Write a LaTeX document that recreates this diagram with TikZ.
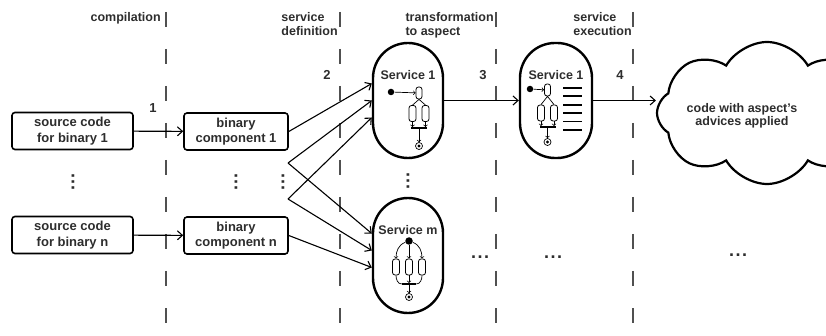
\documentclass[tikz,border=0pt]{standalone}
\usepackage{fontspec}
\setmainfont{Liberation Sans}
\usetikzlibrary{shapes.symbols, arrows.meta}

\definecolor{txtgray}{RGB}{45,45,45}
\definecolor{linegray}{RGB}{80,80,80}

\begin{document}
\begin{tikzpicture}[
                x = 1pt, y = -1pt, % pixel grid, y pointing down
                > = {Straight Barb[length=5pt, width=9pt]}, % open arrow head
                semithick, % line style
                font = \fontsize{12.5}{14}\selectfont\bfseries
            ]

            \useasboundingbox (0,0) rectangle (826,336);

            \tikzstyle{phase}=[anchor=north east, inner sep=0pt, align=left, text=txtgray]
            \tikzstyle{phaseline}=[draw=linegray, line width=1.5pt, dash pattern=on 15pt off 22pt]
            \tikzstyle{stepnum}=[inner sep=0pt, text=txtgray, font=\fontsize{13}{13}\selectfont\bfseries]
            \tikzstyle{codebox}=[draw, rounded corners=3pt, line width=1.6pt, minimum height=37pt,
                                 inner sep=1pt, align=center, text=txtgray,
                                 font=\fontsize{13}{15.5}\selectfont\bfseries]
            \tikzstyle{service}=[draw, rounded corners=35pt, line width=2.4pt,
                                 minimum width=70pt, minimum height=115pt, inner sep=0pt]
            \tikzstyle{flow}=[->, line width=1.1pt]
            \tikzstyle{dots}=[inner sep=0pt, text=txtgray, font=\fontsize{18}{18}\selectfont\bfseries]
            \tikzstyle{capsule}=[draw, rounded corners=2.5pt, line width=0.8pt, inner sep=0pt,
                             minimum width=6pt, minimum height=12pt]
            \tikzstyle{lowcap}=[capsule, minimum width=7pt, minimum height=16pt]
            \tikzstyle{startdot}=[fill, circle, inner sep=0pt, minimum size=6.5pt]
            \tikzstyle{enddot}=[draw, circle, line width=0.7pt, inner sep=0pt, minimum size=7pt]
            \tikzstyle{joinbar}=[fill, inner sep=0pt, minimum height=1.4pt]
            \tikzstyle{tiny}=[-to, line width=0.7pt]

            % phase separators
            \foreach \x in {166,340,496,633}
                \draw[phaseline] (\x,12) -- (\x,336);

            \node[phase] (ph1) at (161,12) {compilation};
            \node[phase] (ph2) at (338,12) {service\\definition};
            \node[phase] (ph3) at (494,12) {transformation\\to aspect};
            \node[phase] (ph4) at (632,12) {service\\execution};

            \node[stepnum] (n1) at (153,108) {1};
            \node[stepnum] (n2) at (327,75) {2};
            \node[stepnum] (n3) at (483,75) {3};
            \node[stepnum] (n4) at (620,75) {4};

            % sources and binaries
            \node[codebox, minimum width=121pt] (src1) at (72.5,131) {source code\\for binary 1};
            \node[codebox, minimum width=121pt] (srcn) at (72.5,235) {source code\\for binary n};
            \node[codebox, minimum width=104pt] (bin1) at (236,131.5) {binary\\component 1};
            \node[codebox, minimum width=104pt] (binn) at (236,235.5) {binary\\component n};

            \node[dots, rotate=90] (vd1) at (73,182) {.\kern1.5pt.\kern1.5pt.};
            \node[dots, rotate=90] (vd2) at (236,182) {.\kern1.5pt.\kern1.5pt.};
            \node[dots, rotate=90] (vd3) at (283,182) {.\kern1.5pt.\kern1.5pt.};

            \draw[flow] (src1) -- (bin1);
            \draw[flow] (srcn) -- (binn);

            % services
            \node[service] (svc1) at (408,100.5) {};
            \node[service] (svcm) at (408,255.5) {};
            \node[service, minimum width=72pt] (svc1x) at (556,100.5) {};
            \node[text=txtgray] (lbl1) at (408,75) {Service 1};
            \node[text=txtgray] (lblm) at (408,230) {Service m};
            \node[text=txtgray] (lbl1x) at (556,75) {Service 1};
            \node[dots, rotate=90] (vd4) at (408,181) {.\kern1.5pt.\kern1.5pt.};

            \coordinate (k1) at (288,163);
            \coordinate (k2) at (288,199);

            \draw[flow] (bin1.east) -- ([yshift=17pt]svc1.west);
            \draw[flow] (k1) -- (svc1.west);
            \draw[flow] (k2) -- ([yshift=-17pt]svc1.west);
            \draw[flow] (k1) -- ([yshift=22pt]svcm.west);
            \draw[flow] (k2) -- ([yshift=5pt]svcm.west);
            \draw[flow] (binn.east) -- ([yshift=-12pt]svcm.west);

            % workflow of service 1
            \node[startdot] (d1) at (391,92) {};
            \node[capsule] (t1) at (419,93) {};
            \node[lowcap] (l1) at (412.5,113.5) {};
            \node[lowcap] (r1) at (425.5,113.5) {};
            \node[joinbar, minimum width=16pt] (b1) at (419,128) {};
            \node[enddot] (e1) at (419,146) {};
            \fill (e1) circle (1.6pt);
            \draw[tiny] (d1) -- (t1);
            \draw[line width=0.7pt] (t1.south) -- (l1.north) (t1.south) -- (r1.north);
            \draw[tiny] (l1.south) -- (l1.south |- b1.north);
            \draw[tiny] (r1.south) -- (r1.south |- b1.north);
            \draw[tiny] (b1) -- (e1);

            % workflow of service 1 with aspect
            \node[startdot] (d2) at (530,89) {};
            \node[capsule] (t2) at (547.5,90) {};
            \node[lowcap] (l2) at (541,113) {};
            \node[lowcap] (r2) at (554,113) {};
            \node[joinbar, minimum width=16pt] (b2) at (547.5,127) {};
            \node[enddot] (e2) at (547.5,142) {};
            \fill (e2) circle (1.6pt);
            \draw[tiny] (d2) -- (t2);
            \draw[line width=0.7pt] (t2.south) -- (l2.north) (t2.south) -- (r2.north);
            \draw[tiny] (l2.south) -- (l2.south |- b2.north);
            \draw[tiny] (r2.south) -- (r2.south |- b2.north);
            \draw[tiny] (b2) -- (e2);
            \foreach \i in {0,...,5}
                \draw[line width=1.8pt] (563,{88+8.4*\i}) -- (582,{88+8.4*\i});

            % workflow of service m
            \node[startdot, minimum size=7.5pt] (d3) at (409,241) {};
            \node[lowcap] (lm) at (396,267) {};
            \node[lowcap] (mm) at (409,267) {};
            \node[lowcap] (rm) at (422,267) {};
            \node[joinbar, minimum width=14pt] (b3) at (409,284) {};
            \node[enddot] (e3) at (409,297) {};
            \fill (e3) circle (1.6pt);
            \draw[tiny] (d3) -- (mm);
            \draw[tiny] (d3) to[out=200, in=90] (lm.north);
            \draw[tiny] (d3) to[out=-20, in=90] (rm.north);
            \draw[line width=0.7pt] (lm.south) to[out=-90, in=180] (b3.west)
                                    (rm.south) to[out=-90, in=0] (b3.east);
            \draw[tiny] (mm.south) -- (b3.north);
            \draw[tiny] (b3) -- (e3);

            % result
            \node[cloud, draw, line width=2.2pt, cloud puffs=8, cloud puff arc=120, aspect=1.3,
                  minimum width=220pt, minimum height=142pt] (res) at (767,113) {};
            \node[text=txtgray, align=center, font=\fontsize{12.5}{13}\selectfont\bfseries]
                  (restext) at (742,116) {code with aspect's\\advices applied};

            \draw[flow] (svc1) -- (svc1x);
            \draw[flow] (svc1x.east) -- (svc1x.east -| res.west);

            \node[dots] (hd1) at (480,257) {.\kern1.5pt.\kern1.5pt.};
            \node[dots] (hd2) at (553,257) {.\kern1.5pt.\kern1.5pt.};
            \node[dots] (hd3) at (738,255) {.\kern1.5pt.\kern1.5pt.};
        \end{tikzpicture}
\end{document}
